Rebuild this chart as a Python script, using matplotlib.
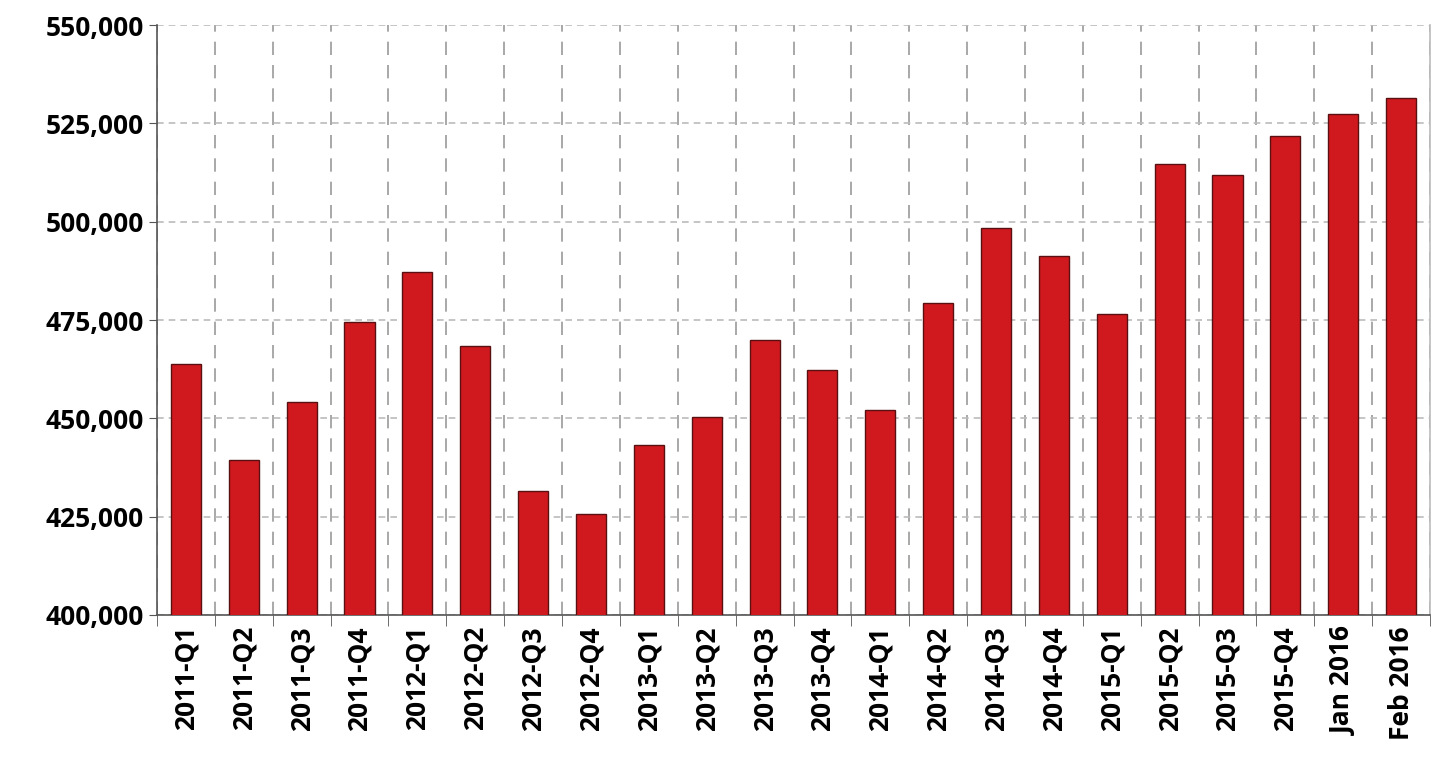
import matplotlib.pyplot as plt
from matplotlib.ticker import FuncFormatter
import numpy as np

categories = ['2011-Q1', '2011-Q2', '2011-Q3', '2011-Q4',
              '2012-Q1', '2012-Q2', '2012-Q3', '2012-Q4',
              '2013-Q1', '2013-Q2', '2013-Q3', '2013-Q4',
              '2014-Q1', '2014-Q2', '2014-Q3', '2014-Q4',
              '2015-Q1', '2015-Q2', '2015-Q3', '2015-Q4',
              'Jan 2016', 'Feb 2016']
values = [463800, 439300, 454200, 474600,
          487100, 468400, 431400, 425600,
          443200, 450300, 469900, 462200,
          452100, 479200, 498300, 491300,
          476600, 514600, 511800, 521900,
          527400, 531500]

plt.rcParams['font.family'] = ['Open Sans', 'DejaVu Sans']

fig = plt.figure(figsize=(14.37, 7.77), dpi=100)
ax = fig.add_axes([157 / 1437, 1 - 615 / 777, (1430 - 157) / 1437, (615 - 25) / 777])

x = np.arange(len(categories))
ax.bar(x, values, width=0.52, color='#d0191e', edgecolor='#5a1010', linewidth=1, zorder=3)

ax.set_xlim(-0.5, len(categories) - 0.5)
ax.set_ylim(400000, 550000)
ax.set_yticks(np.arange(400000, 550001, 25000))
ax.yaxis.set_major_formatter(FuncFormatter(lambda v, p: f'{int(v):,}'))

ax.set_xticks(x)
ax.set_xticklabels(categories, rotation=90, fontsize=19, fontweight='bold')
ax.set_xticks(np.arange(-0.5, len(categories), 1), minor=True)
ax.tick_params(axis='x', which='major', length=0, pad=8)
ax.tick_params(axis='x', which='minor', length=8, color='#555555')
ax.tick_params(axis='y', labelsize=19, length=6, color='#555555')
for lbl in ax.get_yticklabels():
    lbl.set_fontweight('bold')

ax.grid(axis='y', which='major', linestyle=(0, (4, 3)), color='#bbbbbb', linewidth=1.2, zorder=0)
ax.grid(axis='x', which='minor', linestyle=(0, (8, 6)), color='#999999', linewidth=1.2, zorder=0)

ax.spines['top'].set_visible(False)
for s in ['left', 'bottom', 'right']:
    ax.spines[s].set_color('#555555')
    ax.spines[s].set_linewidth(1.2)
ax.spines['right'].set_color('#bbbbbb')

fig.savefig('out.png', dpi=100)
